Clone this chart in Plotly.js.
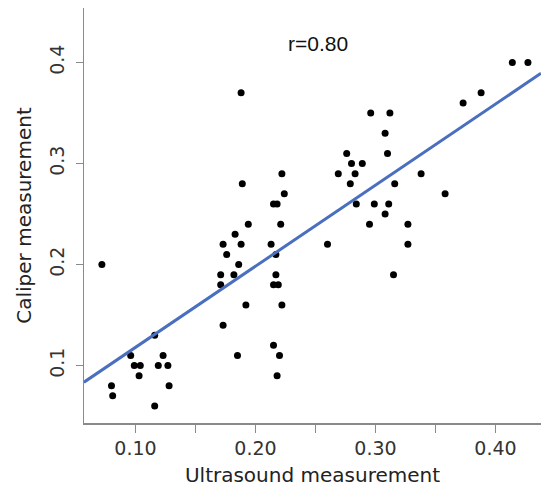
<!DOCTYPE html>
<html><head><meta charset="utf-8">
<script src="https://cdn.plot.ly/plotly-3.0.1.min.js"></script>
<style>html,body{margin:0;padding:0;background:#fff}</style>
</head><body><div id="chart" style="width:541px;height:487px"></div>
<script>
const ultrasound = [0.072,0.080,0.081,0.096,0.099,0.104,0.103,0.116,0.123,0.119,0.127,0.128,0.116,
  0.171,0.171,0.173,0.176,0.183,0.188,0.182,0.186,0.194,0.192,0.173,0.185,0.188,0.189,
  0.222,0.224,0.215,0.218,0.221,0.213,0.217,0.217,0.215,0.219,0.222,0.215,0.220,0.218,
  0.260,0.269,0.276,0.280,0.279,0.283,0.289,0.284,0.295,0.296,0.299,0.308,0.310,0.312,
  0.308,0.311,0.315,0.316,0.327,0.327,0.338,0.358,0.373,0.388,0.414,0.427];
const caliper = [0.20,0.08,0.07,0.11,0.10,0.10,0.09,0.13,0.11,0.10,0.10,0.08,0.06,
  0.19,0.18,0.22,0.21,0.23,0.22,0.19,0.20,0.24,0.16,0.14,0.11,0.37,0.28,
  0.29,0.27,0.26,0.26,0.24,0.22,0.21,0.19,0.18,0.18,0.16,0.12,0.11,0.09,
  0.22,0.29,0.31,0.30,0.28,0.29,0.30,0.26,0.24,0.35,0.26,0.33,0.31,0.35,
  0.25,0.26,0.19,0.28,0.24,0.22,0.29,0.27,0.36,0.37,0.40,0.40];
const fitIntercept = 0.0377;
const fitSlope = 0.803;
const fitX = [0.0571, 0.4379];
const fitY = fitX.map(v => fitIntercept + fitSlope * v);
const xTickVals = [0.10,0.15,0.20,0.25,0.30,0.35,0.40];
const xTickText = ["0.10","","0.20","","0.30","","0.40"];
const yTickVals = [0.1,0.2,0.3,0.4];
const yTickText = ["0.1","0.2","0.3","0.4"];
const rText = "r=0.80";

const axisColor = '#8a8a8a';
const tickFont = {family:'DejaVu Sans', size:19, color:'#333'};
const titleFont = {family:'DejaVu Sans', size:20, color:'#222'};

const traces = [
  {x: ultrasound, y: caliper, type:'scatter', mode:'markers',
   marker:{color:'#000', size:7, line:{width:0}}, hoverinfo:'skip'},
  {x: fitX, y: fitY, type:'scatter', mode:'lines',
   line:{color:'#4a6fbe', width:3}, hoverinfo:'skip'}
];
const layout = {
  width:541, height:487, showlegend:false,
  paper_bgcolor:'#fff', plot_bgcolor:'#fff',
  margin:{l:84, r:0, t:8, b:64},
  xaxis:{range:[0.0571,0.4379], showgrid:false, zeroline:false,
    showline:true, linecolor:axisColor, linewidth:1.5,
    ticks:'outside', ticklen:8, tickcolor:axisColor, tickwidth:1.5,
    tickvals:xTickVals, ticktext:xTickText, tickfont:tickFont,
    title:{text:'Ultrasound measurement', font:titleFont, standoff:14}, automargin:false},
  yaxis:{range:[0.0431,0.454], showgrid:false, zeroline:false,
    showline:true, linecolor:axisColor, linewidth:1.5,
    ticks:'outside', ticklen:7, tickcolor:axisColor, tickwidth:1.5,
    tickvals:yTickVals, ticktext:yTickText, tickfont:tickFont, tickangle:-90,
    ticklabelstandoff:4,
    title:{text:'Caliper measurement', font:titleFont, standoff:9}, automargin:false},
  annotations:[{text:rText, xref:'paper', yref:'paper', x:(318-84)/457, y:(423.5-44)/415.5,
    xanchor:'center', yanchor:'middle', showarrow:false,
    font:{family:'Liberation Sans', size:21, color:'#111'}}]
};
Plotly.newPlot('chart', traces, layout, {staticPlot:true, displayModeBar:false});
</script></body></html>
